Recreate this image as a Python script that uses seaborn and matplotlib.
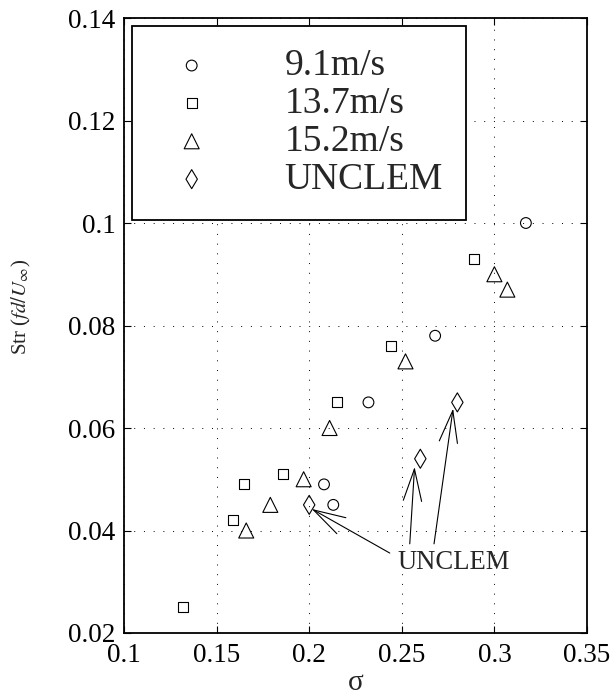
import matplotlib
matplotlib.use("Agg")
import matplotlib.pyplot as plt
import seaborn as sns

# Strouhal number vs cavitation number for three free-stream speeds and UNCLEM
sigma_91 = [0.208, 0.213, 0.232, 0.268, 0.317]
str_91 = [0.049, 0.045, 0.065, 0.078, 0.100]

sigma_137 = [0.132, 0.159, 0.165, 0.186, 0.215, 0.244, 0.289]
str_137 = [0.025, 0.042, 0.049, 0.051, 0.065, 0.076, 0.093]

sigma_152 = [0.166, 0.179, 0.197, 0.211, 0.252, 0.300, 0.307]
str_152 = [0.040, 0.045, 0.050, 0.060, 0.073, 0.090, 0.087]

sigma_unclem = [0.200, 0.260, 0.280]
str_unclem = [0.045, 0.054, 0.065]

series_labels = ["9.1m/s", "13.7m/s", "15.2m/s", "UNCLEM"]

x_ticks = [0.1, 0.15, 0.2, 0.25, 0.3, 0.35]
x_tick_labels = ["0.1", "0.15", "0.2", "0.25", "0.3", "0.35"]
y_ticks = [0.02, 0.04, 0.06, 0.08, 0.1, 0.12, 0.14]
y_tick_labels = ["0.02", "0.04", "0.06", "0.08", "0.1", "0.12", "0.14"]

# callout arrows: (tail, tip) in data coordinates
arrow_tails = [(0.2435, 0.0356), (0.2543, 0.0374), (0.2674, 0.0374)]
arrow_tips = [(0.2014, 0.0442), (0.2569, 0.0524), (0.2777, 0.0638)]
callout_text = "UNCLEM"
callout_pos = (0.2478, 0.03244)

sns.set_style("ticks")
plt.rcParams["font.family"] = ["Liberation Serif", "DejaVu Serif"]
plt.rcParams["mathtext.fontset"] = "stix"

fig = plt.figure(figsize=(6.11, 6.97), dpi=100)
ax = fig.add_axes([124 / 611, 64 / 697, 463 / 611, 615 / 697])

styles = [("o", 60), ("s", 52), ("^", 117), ("d", 94)]
data = [(sigma_91, str_91), (sigma_137, str_137),
        (sigma_152, str_152), (sigma_unclem, str_unclem)]

for (xs, ys), label, (marker, size) in zip(data, series_labels, styles):
    sns.scatterplot(x=xs, y=ys, ax=ax, marker=marker, s=size,
                    color="black", facecolor="none", edgecolor="black",
                    linewidth=0.8, label=label, zorder=3)

ax.set_xlim(0.1, 0.35)
ax.set_ylim(0.02, 0.14)
ax.set_xticks(x_ticks)
ax.set_xticklabels(x_tick_labels)
ax.set_yticks(y_ticks)
ax.set_yticklabels(y_tick_labels)

ax.tick_params(direction="in", top=True, right=True, length=5, width=0.8,
               labelsize=19.5, pad=6, colors="black")
ax.tick_params(axis="x", pad=7)
ax.grid(True, linestyle=(0, (1, 9)), color="black", linewidth=0.7)
for sp in ax.spines.values():
    sp.set_linewidth(1.3)
    sp.set_color("black")

ax.set_xlabel("σ", fontsize=21, labelpad=2)
ax.set_ylabel(r"Str ($fd/U_\infty$)", fontsize=15)
ax.yaxis.set_label_coords(-0.197, 0.53)

for tail, tip in zip(arrow_tails, arrow_tips):
    ax.annotate("", xy=tip, xytext=tail,
                arrowprops=dict(arrowstyle="->,head_length=1.15,head_width=0.33",
                                mutation_scale=20, lw=0.8, color="black",
                                shrinkA=0, shrinkB=0))
ax.text(callout_pos[0], callout_pos[1], callout_text, fontsize=19.2,
        ha="left", va="baseline")

handles, labels = ax.get_legend_handles_labels()
leg = ax.legend(handles, labels, loc="upper left",
                bbox_to_anchor=(0.0166, 0.987), borderaxespad=0,
                frameon=True, fancybox=False, edgecolor="black",
                framealpha=1, fontsize=27, handlelength=1.98,
                handletextpad=1.49, borderpad=0.61, labelspacing=0.09)
leg.get_frame().set_linewidth(1.3)

fig.savefig("out.png", dpi=100)
